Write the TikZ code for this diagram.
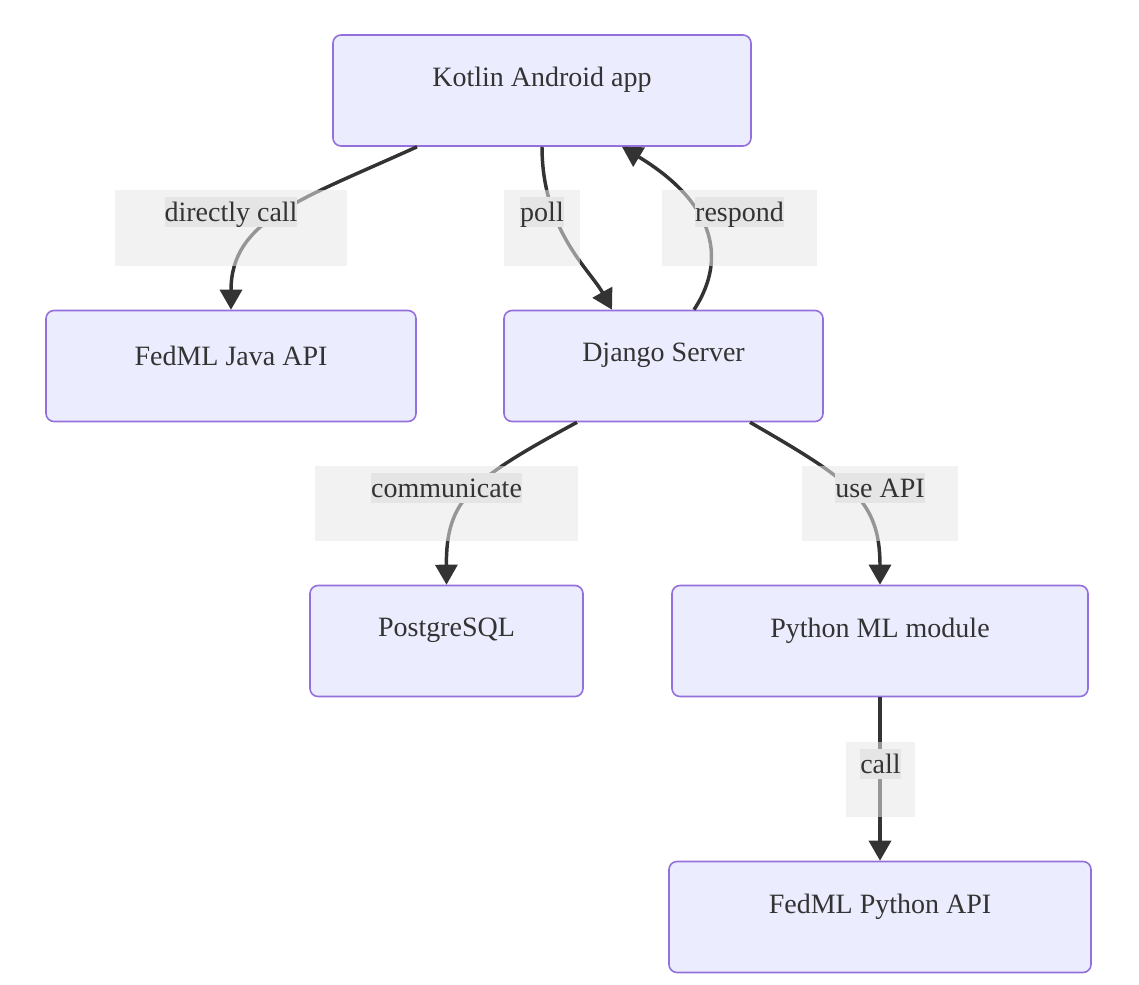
\documentclass[tikz,border=0pt]{standalone}
\usepackage{fontspec}
\setmainfont{Liberation Serif}
\usetikzlibrary{arrows.meta,calc}

\definecolor{nodefill}{RGB}{236,236,255}
\definecolor{nodeline}{RGB}{147,112,219}
\definecolor{ink}{RGB}{51,51,51}
\definecolor{lblgrey}{RGB}{232,232,232}
\definecolor{lbltextbg}{RGB}{229,229,229}

\tikzset{every picture/.style={line width=0.75pt}}
\tikzset{
  flowbox/.style={draw=nodeline, fill=nodefill, line width=1.2pt, rounded corners=6pt, minimum height=111*0.75pt, inner sep=0pt},
  flowtext/.style={text=ink, inner sep=0pt, font=\fontsize{21}{25}\selectfont},
  edge/.style={draw=ink, line width=2.6pt, -{Triangle[length=15pt,width=16.5pt]}},
  lblbox/.style={fill=lblgrey, fill opacity=0.55, inner sep=0pt},
  lbltext/.style={fill=lbltextbg, text=ink, inner sep=0pt, text height=18.5pt, text depth=3.8pt, font=\fontsize{21}{25}\selectfont},
}

\begin{document}
\begin{tikzpicture}[x=0.75pt,y=0.75pt,yscale=-1,xscale=1]
\useasboundingbox (0,0) rectangle (1139,985);

%Shape: Rectangles
\node[flowbox, minimum width=418*0.75pt] (kotlin) at (542,90.5) {};
\node[flowbox, minimum width=370*0.75pt] (java) at (231,366) {};
\node[flowbox, minimum width=319*0.75pt] (django) at (663.5,366) {};
\node[flowbox, minimum width=273*0.75pt] (postgres) at (446.5,641) {};
\node[flowbox, minimum width=416*0.75pt] (pyml) at (880,641) {};
\node[flowbox, minimum width=422*0.75pt] (fedpy) at (880,917) {};

% Text Node
\node[flowtext] (kotlinT) at ($(kotlin)+(0,-10.5)$) {Kotlin Android app};
\node[flowtext] (javaT) at ($(java)+(0,-10.5)$) {FedML Java API};
\node[flowtext] (djangoT) at ($(django)+(0,-10.5)$) {Django Server};
\node[flowtext] (postgresT) at ($(postgres)+(0,-10.5)$) {PostgreSQL};
\node[flowtext] (pymlT) at ($(pyml)+(0,-10.5)$) {Python ML module};
\node[flowtext] (fedpyT) at ($(fedpy)+(0,-10.5)$) {FedML Python API};

%Curve Lines
\draw[edge] ($(kotlin.south)+(-125,0)$) .. controls (300,200) and (231,220) .. (java.north);
\draw[edge] (kotlin.south) .. controls (542,230) and (590,270) .. ($(django.north)+(-51.5,0)$);
\draw[edge] ($(django.north)+(30.5,0)$) .. controls (730,255) and (710,200) .. ($(kotlin.south)+(80,0)$);
\draw[edge] ($(django.south)+(-86.5,0)$) .. controls (470,480) and (446,500) .. (postgres.north);
\draw[edge] ($(django.south)+(86.5,0)$) .. controls (850,480) and (880,500) .. (pyml.north);
%Straight Lines
\draw[edge] (pyml.south) -- (fedpy.north);

%Shape: Label boxes
\node[lblbox, minimum width=232*0.75pt, minimum height=76*0.75pt] (directL) at (231,228) {};
\node[lblbox, minimum width=76*0.75pt, minimum height=76*0.75pt] (pollL) at (542,228) {};
\node[lblbox, minimum width=155*0.75pt, minimum height=76*0.75pt] (respondL) at (739.5,228) {};
\node[lblbox, minimum width=263*0.75pt, minimum height=75*0.75pt] (commL) at (446.5,503.5) {};
\node[lblbox, minimum width=156*0.75pt, minimum height=75*0.75pt] (useL) at (880,503.5) {};
\node[lblbox, minimum width=69*0.75pt, minimum height=75*0.75pt] (callL) at (880.5,779.5) {};

% Text Node
\node[lbltext] (directT) at (231,212) {directly call};
\node[lbltext] (pollT) at (542,212) {poll};
\node[lbltext] (respondT) at (739.5,212) {respond};
\node[lbltext] (commT) at (446.5,488) {communicate};
\node[lbltext] (useT) at (880,488) {use API};
\node[lbltext] (callT) at (880.5,764) {call};

\end{tikzpicture}
\end{document}
